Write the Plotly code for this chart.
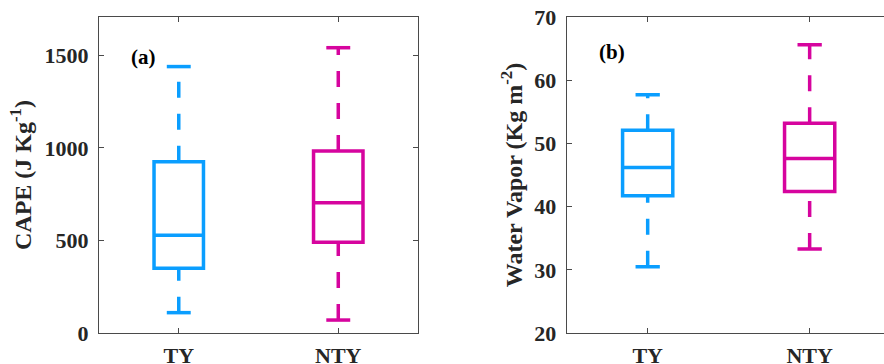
import plotly.graph_objects as go

categories = ["TY", "NTY"]
positions = [1, 2]
colors = ["#0a9eff", "#d6049e"]

# Panel (a): CAPE (J Kg-1)
cape_lower = [110, 70]
cape_q1 = [350, 490]
cape_median = [528, 704]
cape_q3 = [926, 984]
cape_upper = [1440, 1542]

# Panel (b): Water Vapor (Kg m-2)
wv_lower = [30.5, 33.3]
wv_q1 = [41.7, 42.4]
wv_median = [46.2, 47.6]
wv_q3 = [52.1, 53.2]
wv_upper = [57.7, 65.6]

cape_ticks = [0, 500, 1000, 1500]
wv_ticks = [20, 30, 40, 50, 60, 70]

BOX_W = 0.31
CAP_W = 0.15
LW = 3.5
FONT = "Liberation Serif"
TXT = "#262626"
AX = "#4a4a4a"

fig = go.Figure()


def add_panel(xa, ya, lower, q1, med, q3, upper):
    for i, pos in enumerate(positions):
        c = colors[i]
        fig.add_trace(go.Box(
            x=[pos], q1=[q1[i]], median=[med[i]], q3=[q3[i]],
            lowerfence=[q1[i]], upperfence=[q3[i]],
            width=BOX_W, whiskerwidth=0, boxpoints=False,
            line=dict(color=c, width=LW), fillcolor="rgba(0,0,0,0)",
            xaxis=xa, yaxis=ya, showlegend=False, hoverinfo="skip"))
        # dashed whiskers, each drawn in increasing-value direction
        for start, end in ((q3[i], upper[i]), (lower[i], q1[i])):
            fig.add_trace(go.Scatter(
                x=[pos, pos], y=[start, end], mode="lines",
                line=dict(color=c, width=LW, dash="16px,16px"),
                xaxis=xa, yaxis=ya, showlegend=False, hoverinfo="skip"))
        for cap in (upper[i], lower[i]):
            fig.add_trace(go.Scatter(
                x=[pos - CAP_W / 2, pos + CAP_W / 2], y=[cap, cap], mode="lines",
                line=dict(color=c, width=LW),
                xaxis=xa, yaxis=ya, showlegend=False, hoverinfo="skip"))


add_panel("x", "y", cape_lower, cape_q1, cape_median, cape_q3, cape_upper)
add_panel("x2", "y2", wv_lower, wv_q1, wv_median, wv_q3, wv_upper)

tickfont = dict(family=FONT, size=22, color=TXT, weight="bold")
axis_common = dict(showline=True, linecolor=AX, linewidth=1.2, ticks="inside",
                   ticklen=5, tickcolor=AX, tickwidth=1, showgrid=False,
                   zeroline=False, tickfont=tickfont, automargin=False)

fig.update_layout(
    width=884, height=364,
    margin=dict(l=99, r=0, t=17, b=31),
    paper_bgcolor="white", plot_bgcolor="white",
    xaxis=dict(domain=[0, 0.4064], range=[0.5, 2.5], tickvals=positions,
               ticktext=categories, mirror="ticks", anchor="y",
               ticklabelstandoff=2, **axis_common),
    yaxis=dict(range=[0, 1708], tickvals=cape_ticks, mirror="ticks", anchor="x",
               ticklabelstandoff=5,
               title=dict(text="CAPE (J Kg<sup>-1</sup>)", standoff=6,
                          font=dict(family=FONT, size=24, color=TXT, weight="bold")),
               **axis_common),
    xaxis2=dict(domain=[0.5958, 1], range=[0.5, 2.459], tickvals=positions,
                ticktext=categories, mirror="ticks", anchor="y2",
                ticklabelstandoff=2, **axis_common),
    yaxis2=dict(range=[20, 70], tickvals=wv_ticks, anchor="x2",
                ticklabelstandoff=5,
                title=dict(text="Water Vapor (Kg m<sup>-2</sup>)", standoff=4,
                           font=dict(family=FONT, size=24, color=TXT, weight="bold")),
                **axis_common),
    annotations=[
        dict(text="(a)", xref="paper", yref="paper", x=(143 - 99) / 785,
             y=(333 - 57) / 316, showarrow=False, xanchor="center", yanchor="middle",
             font=dict(family=FONT, size=21, color="black", weight="bold")),
        dict(text="(b)", xref="paper", yref="paper", x=(612 - 99) / 785,
             y=(333 - 52) / 316, showarrow=False, xanchor="center", yanchor="middle",
             font=dict(family=FONT, size=21, color="black", weight="bold")),
    ],
)

fig.write_html("out.html")
